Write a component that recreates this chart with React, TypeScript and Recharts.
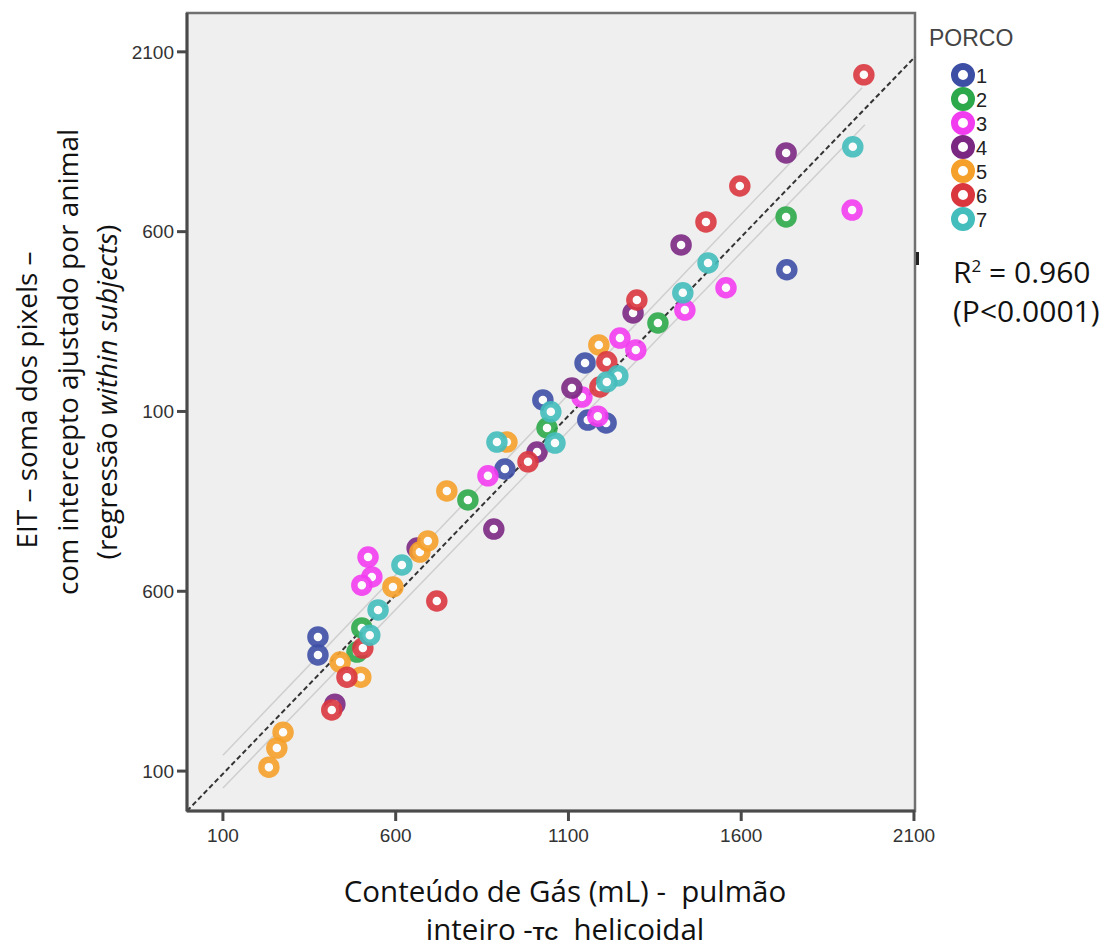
import React from 'react'
import {
  ScatterChart,
  Scatter,
  XAxis,
  YAxis,
  ReferenceArea,
  ReferenceLine,
} from 'recharts'

// values: [TC gas content, EIT pixel sum]
const porco1: [number, number][] = [
  [375, 473], [375, 423], [916, 940], [1026, 1132], [1148, 1235],
  [1156, 1076], [1209, 1068], [1732, 1494],
]
const porco2: [number, number][] = [
  [502, 498], [488, 431], [809, 854], [1038, 1054], [1359, 1346], [1730, 1641],
]
const porco3: [number, number][] = [
  [520, 695], [531, 640], [502, 617], [867, 921], [1185, 1087], [1249, 1304],
  [1295, 1271], [1139, 1140], [1437, 1382], [1556, 1444], [1921, 1660],
]
const porco4: [number, number][] = [
  [424, 286], [662, 720], [884, 773], [1009, 987], [1110, 1165],
  [1287, 1374], [1426, 1563], [1730, 1819],
]
const porco5: [number, number][] = [
  [274, 208], [256, 164], [233, 111], [439, 403], [499, 361], [592, 612],
  [670, 709], [693, 740], [748, 879], [922, 1015], [1188, 1285],
]
const porco6: [number, number][] = [
  [719, 573], [415, 270], [459, 361], [505, 442], [983, 960], [1211, 1238],
  [1191, 1168], [1298, 1410], [1498, 1627], [1596, 1727], [1955, 2036],
]
const porco7: [number, number][] = [
  [549, 548], [525, 478], [618, 673], [893, 1015], [1061, 1012], [1049, 1099],
  [1243, 1199], [1211, 1182], [1431, 1430], [1504, 1513], [1923, 1836],
]

const groups = ['1', '2', '3', '4', '5', '6', '7']
const groupData = [porco1, porco2, porco3, porco4, porco5, porco6, porco7]
const COLORS = ['#3d4fa5', '#2da84a', '#f23cf0', '#7b2883', '#f5a02a', '#d9363e', '#44bdbd']

const xTicks = [100, 600, 1100, 1600, 2100]
const yTicks = [100, 600, 1100, 1600, 2100]
const yTickLabels = ['100', '600', '100', '600', '2100']

// dashed identity-like line and the two thin grey lines
const identityLine: [number, number][] = [[-4, -11], [2103, 2086]]
const upperLine: [number, number][] = [[100, 144], [1950, 2000]]
const lowerLine: [number, number][] = [[100, 53], [1958, 1897]]

const toPts = (arr: [number, number][]) => arr.map(([x, y]) => ({ x, y }))

const ring = (color: string) => (p: any) => (
  <circle cx={p.cx} cy={p.cy} r={7.5} fill="#fbfbfb" stroke={color} strokeWidth={6.5} strokeOpacity={0.9} />
)

const titleFont = '"Open Sans", Lato, sans-serif'
const tickStyle = { fontSize: 19, fill: '#333', fontFamily: '"Liberation Sans", Arial, sans-serif' }

function LegendBox() {
  return (
    <div style={{ position: 'absolute', left: 929, top: 25, fontFamily: '"Liberation Sans", Arial, sans-serif' }}>
      <div style={{ fontSize: 23, color: '#444', lineHeight: '26px' }}>PORCO</div>
      <svg width={90} height={190} style={{ display: 'block', marginTop: 10 }}>
        {groups.map((g, i) => (
          <g key={g}>
            <circle cx={34} cy={14 + i * 24} r={8.5} fill="#fff" stroke={COLORS[i]} strokeWidth={7} />
            <text x={47} y={22 + i * 24} fontSize={20} fill="#222">{g}</text>
          </g>
        ))}
      </svg>
    </div>
  )
}

export default function App() {
  return (
    <div style={{ position: 'absolute', left: 0, top: 0, width: 1117, height: 952, background: '#fff' }}>
      <ScatterChart
        width={1117}
        height={952}
        margin={{ top: 13, right: 202, bottom: 101, left: 130 }}
      >
        <ReferenceArea
          x1={-4}
          x2={2103}
          y1={-11}
          y2={2208}
          fill="#efefef"
          fillOpacity={1}
          stroke="#707070"
          strokeWidth={2.5}
          ifOverflow="visible"
        />
        <XAxis
          type="number"
          dataKey="x"
          domain={[-4, 2103]}
          ticks={xTicks}
          allowDataOverflow
          height={40}
          tickSize={10}
          tickMargin={8}
          tick={tickStyle}
          axisLine={{ stroke: '#4a4a4a', strokeWidth: 3 }}
          tickLine={{ stroke: '#4a4a4a', strokeWidth: 3 }}
        />
        <YAxis
          type="number"
          dataKey="y"
          domain={[-11, 2208]}
          ticks={yTicks}
          tickFormatter={(v: number) => yTickLabels[yTicks.indexOf(v)]}
          allowDataOverflow
          width={57}
          tickSize={10}
          tickMargin={3}
          tick={tickStyle}
          axisLine={{ stroke: '#4a4a4a', strokeWidth: 3 }}
          tickLine={{ stroke: '#4a4a4a', strokeWidth: 3 }}
        />
        <ReferenceLine segment={toPts(upperLine)} stroke="#cfcfcf" strokeWidth={1.5} ifOverflow="visible" />
        <ReferenceLine segment={toPts(lowerLine)} stroke="#cfcfcf" strokeWidth={1.5} ifOverflow="visible" />
        <ReferenceLine
          segment={toPts(identityLine)}
          stroke="#333"
          strokeWidth={2}
          strokeDasharray="5 3"
          ifOverflow="visible"
        />
        {groupData.map((d, i) => (
          <Scatter
            key={groups[i]}
            name={groups[i]}
            data={toPts(d)}
            fill={COLORS[i]}
            shape={ring(COLORS[i])}
            isAnimationActive={false}
          />
        ))}
      </ScatterChart>

      <LegendBox />

      {/* small mark at the right edge */}
      <div style={{ position: 'absolute', left: 916, top: 252, width: 3, height: 13, background: '#222' }} />

      <div style={{ position: 'absolute', left: 953, top: 246, fontFamily: titleFont, fontSize: 30, color: '#111', whiteSpace: 'nowrap', lineHeight: '39px' }}>
        R<sup style={{ fontSize: 17 }}>2</sup> = 0.960
        <br />
        (P&lt;0.0001)
      </div>

      {/* y axis title */}
      {[
        { x: 26, y: 400, node: <>EIT – soma dos pixels –</> },
        { x: 67, y: 362, node: <>com intercepto ajustado por animal</> },
        { x: 106, y: 392, node: <>(regressão <i>within subjects</i>)</> },
      ].map((l, i) => (
        <div
          key={i}
          style={{
            position: 'absolute',
            left: l.x,
            top: l.y,
            transform: 'translate(-50%, -50%) rotate(-90deg)',
            fontFamily: titleFont,
            fontSize: 28,
            color: '#111',
            whiteSpace: 'nowrap',
          }}
        >
          {l.node}
        </div>
      ))}

      {/* x axis title */}
      <div style={{ position: 'absolute', left: 565, top: 890, transform: 'translate(-50%, -50%)', fontFamily: titleFont, fontSize: 29.5, color: '#111', whiteSpace: 'pre' }}>
        Conteúdo de Gás (mL) -  pulmão
      </div>
      <div style={{ position: 'absolute', left: 565, top: 928, transform: 'translate(-50%, -50%)', fontFamily: titleFont, fontSize: 29.5, color: '#111', whiteSpace: 'pre' }}>
        inteiro -<b style={{ fontFamily: '"Liberation Sans", Arial, sans-serif', fontSize: 19 }}>TC</b>  helicoidal
      </div>
    </div>
  )
}
